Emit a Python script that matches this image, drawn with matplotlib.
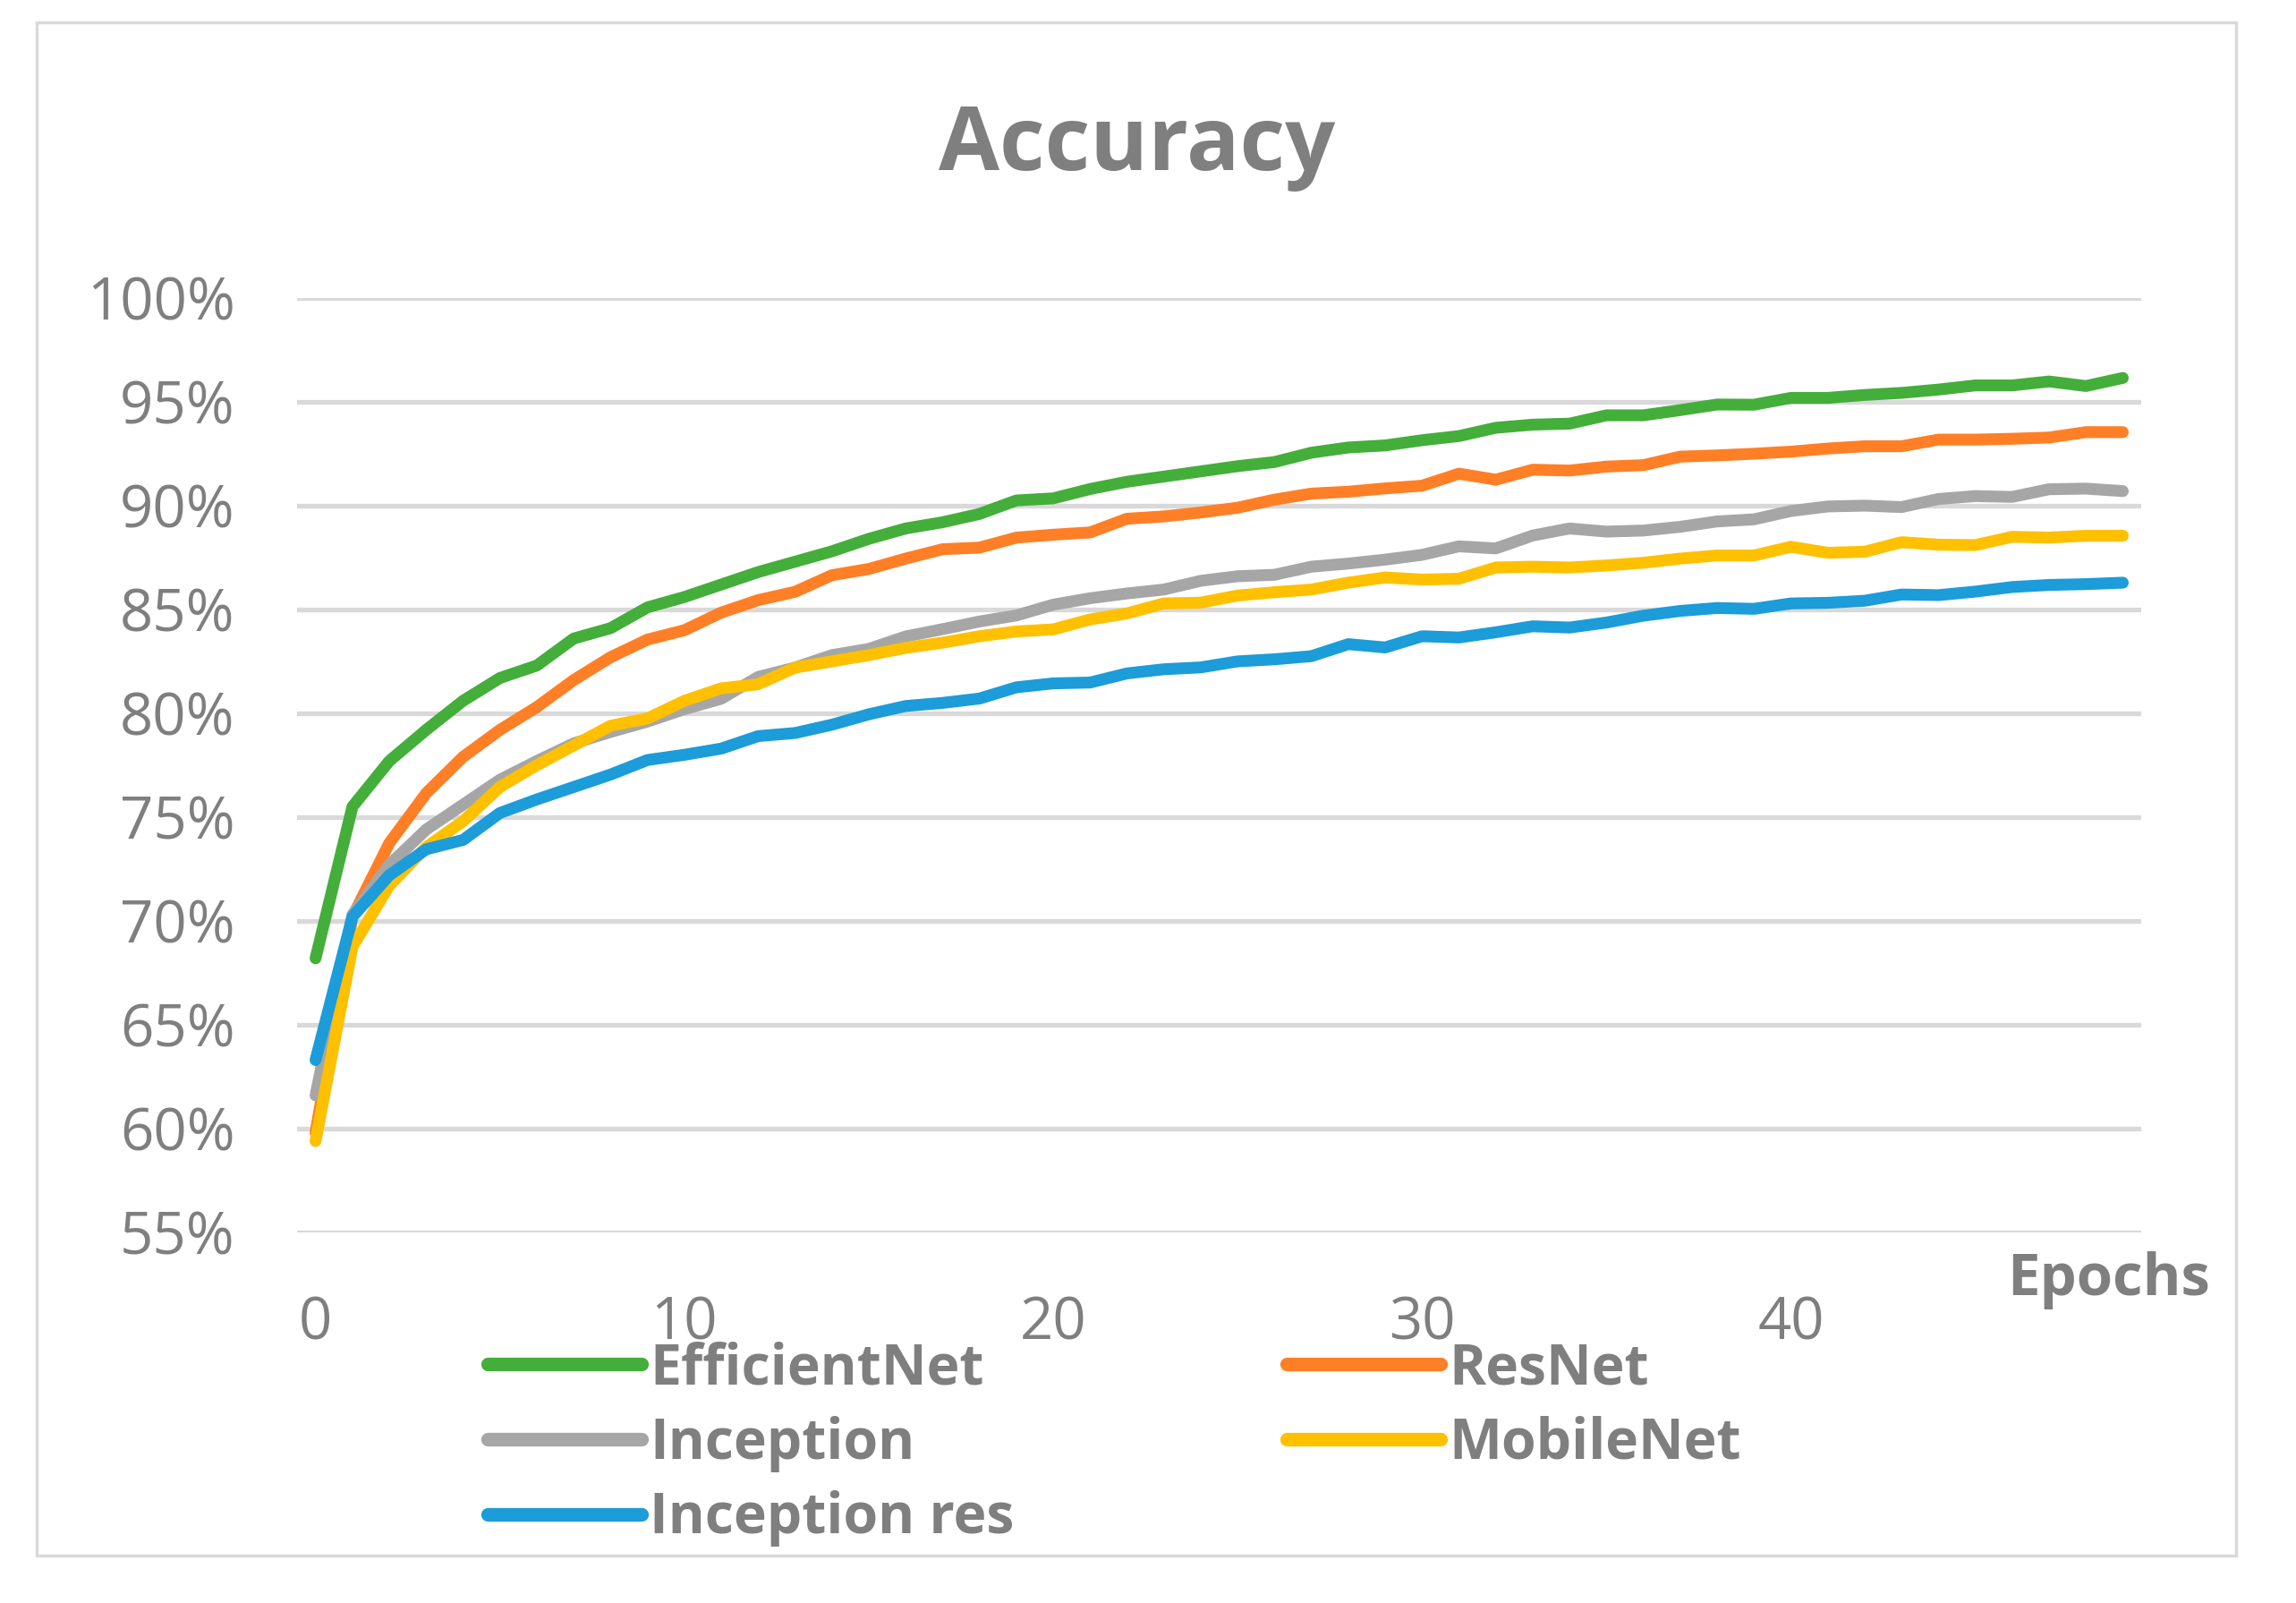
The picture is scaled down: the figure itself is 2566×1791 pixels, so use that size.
import matplotlib
matplotlib.use("Agg")
import matplotlib.pyplot as plt
from matplotlib.patches import Rectangle

plt.rcParams['font.family'] = ['Open Sans', 'DejaVu Sans']

epochs = list(range(50))

efficientnet = [68.2, 75.5, 77.7, 79.2, 80.6, 81.7, 82.3, 83.6, 84.1,
                85.1, 85.6, 86.2, 86.8, 87.3, 87.8, 88.4, 88.9, 89.2,
                89.6, 90.25, 90.35, 90.8, 91.15, 91.4, 91.65, 91.9, 92.1, 92.55, 92.8, 92.9,
                93.15, 93.35, 93.75, 93.9, 93.95, 94.35, 94.35,
                94.6, 94.87, 94.86, 95.19, 95.19, 95.33, 95.43, 95.59, 95.79, 95.79, 95.98, 95.76, 96.15]
resnet = [59.8, 70.2, 73.75, 76.15, 77.9, 79.2, 80.3, 81.6, 82.7,
          83.55, 84.0, 84.85, 85.45, 85.85, 86.65, 86.95, 87.45, 87.9,
          87.98, 88.46, 88.6, 88.71, 89.37, 89.48, 89.67, 89.9, 90.29, 90.58, 90.67, 90.83,
          90.96, 91.54, 91.25, 91.73, 91.69, 91.88, 91.95,
          92.36, 92.42, 92.5, 92.6, 92.75, 92.86, 92.86, 93.18, 93.18, 93.22, 93.28, 93.54, 93.54]
inception = [61.6, 70.3, 72.7, 74.4, 75.6, 76.8, 77.7, 78.55, 79.1,
             79.6, 80.2, 80.7, 81.75, 82.2, 82.8, 83.1, 83.7, 84.05,
             84.42, 84.71, 85.23, 85.54, 85.77, 85.96, 86.38, 86.6, 86.67, 87.06, 87.21, 87.4,
             87.63, 88.04, 87.94, 88.56, 88.9, 88.75, 88.8,
             88.98, 89.24, 89.34, 89.74, 89.96, 90.0, 89.93, 90.32, 90.46, 90.42, 90.79, 90.82, 90.7]
mobilenet = [59.4, 68.75, 71.7, 73.55, 74.8, 76.45, 77.5, 78.45, 79.4,
             79.75, 80.6, 81.2, 81.4, 82.2, 82.5, 82.8, 83.15, 83.4,
             83.71, 83.94, 84.04, 84.52, 84.81, 85.29, 85.33, 85.67, 85.83, 85.96, 86.29, 86.54,
             86.44, 86.48, 87.02, 87.06, 87.02, 87.12, 87.25,
             87.45, 87.6, 87.6, 88.02, 87.73, 87.78, 88.24, 88.12, 88.1, 88.5, 88.46, 88.55, 88.55]
inception_res = [63.3, 70.2, 72.2, 73.45, 73.9, 75.2, 75.85, 76.45, 77.05,
                 77.75, 78.0, 78.3, 78.9, 79.05, 79.45, 79.95, 80.35, 80.5,
                 80.71, 81.25, 81.44, 81.48, 81.92, 82.12, 82.21, 82.5, 82.6, 82.75, 83.33, 83.17,
                 83.71, 83.65, 83.9, 84.19, 84.13, 84.37, 84.7,
                 84.93, 85.07, 85.03, 85.29, 85.32, 85.42, 85.72, 85.69, 85.86, 86.08, 86.18, 86.22, 86.29]

series_names = ['EfficientNet', 'ResNet', 'Inception', 'MobileNet', 'Inception res']
series_values = [efficientnet, resnet, inception, mobilenet, inception_res]
series_colors = ['#44AE3A', '#FF7F27', '#A6A6A6', '#FFC000', '#1C9CD8']

y_ticks = [55, 60, 65, 70, 75, 80, 85, 90, 95, 100]
y_tick_labels = [f'{t}%' for t in y_ticks]
x_ticks = [0, 10, 20, 30, 40]

TEXT = '#7F7F7F'
GRID = '#D9D9D9'

fig = plt.figure(figsize=(25.66, 17.91), dpi=100)
ax = fig.add_axes([0.1294, 0.2312, 0.9326 - 0.1294, 0.8141 - 0.2312])

lines = {}
for name, vals, col in zip(series_names, series_values, series_colors):
    ln, = ax.plot(epochs, vals, color=col, lw=9.5, solid_capstyle='round',
                  solid_joinstyle='round', label=name, zorder=3)
    lines[name] = ln

ax.set_xlim(-0.5, 49.5)
ax.set_ylim(55, 100)
ax.set_yticks(y_ticks)
ax.set_yticklabels(y_tick_labels)
ax.set_xticks(x_ticks)
ax.grid(axis='y', color=GRID, lw=3.8, zorder=0)
ax.set_axisbelow(True)
for s in ax.spines.values():
    s.set_visible(False)
ax.tick_params(axis='both', length=0, labelsize=47, colors=TEXT)
ax.tick_params(axis='y', pad=50)
ax.tick_params(axis='x', pad=50)

fig.text(0.495, 0.908, 'Accuracy', ha='center', va='center', fontsize=71,
         fontweight='bold', color=TEXT)
fig.text(0.9625, 0.2015, 'Epochs', ha='right', va='center', fontsize=47,
         fontweight='bold', color=TEXT)

order = ['EfficientNet', 'Inception', 'Inception res', 'ResNet', 'MobileNet']
leg = fig.legend([lines[n] for n in order], order, loc='upper left',
                 bbox_to_anchor=(0.2124, 0.1635), ncol=2, frameon=False,
                 fontsize=45, handlelength=2.75, handletextpad=0.15,
                 columnspacing=4.87, labelspacing=0.33, borderpad=0, borderaxespad=0)
for t in leg.get_texts():
    t.set_color(TEXT)
    t.set_fontweight('bold')
for h in leg.legend_handles:
    h.set_linewidth(11)

fig.patches.append(Rectangle((0.016, 0.0296), 0.9739 - 0.016, 0.986 - 0.0296,
                             transform=fig.transFigure, fill=False,
                             edgecolor=GRID, lw=2.5))

fig.savefig('out.png', dpi=100, facecolor='white')
